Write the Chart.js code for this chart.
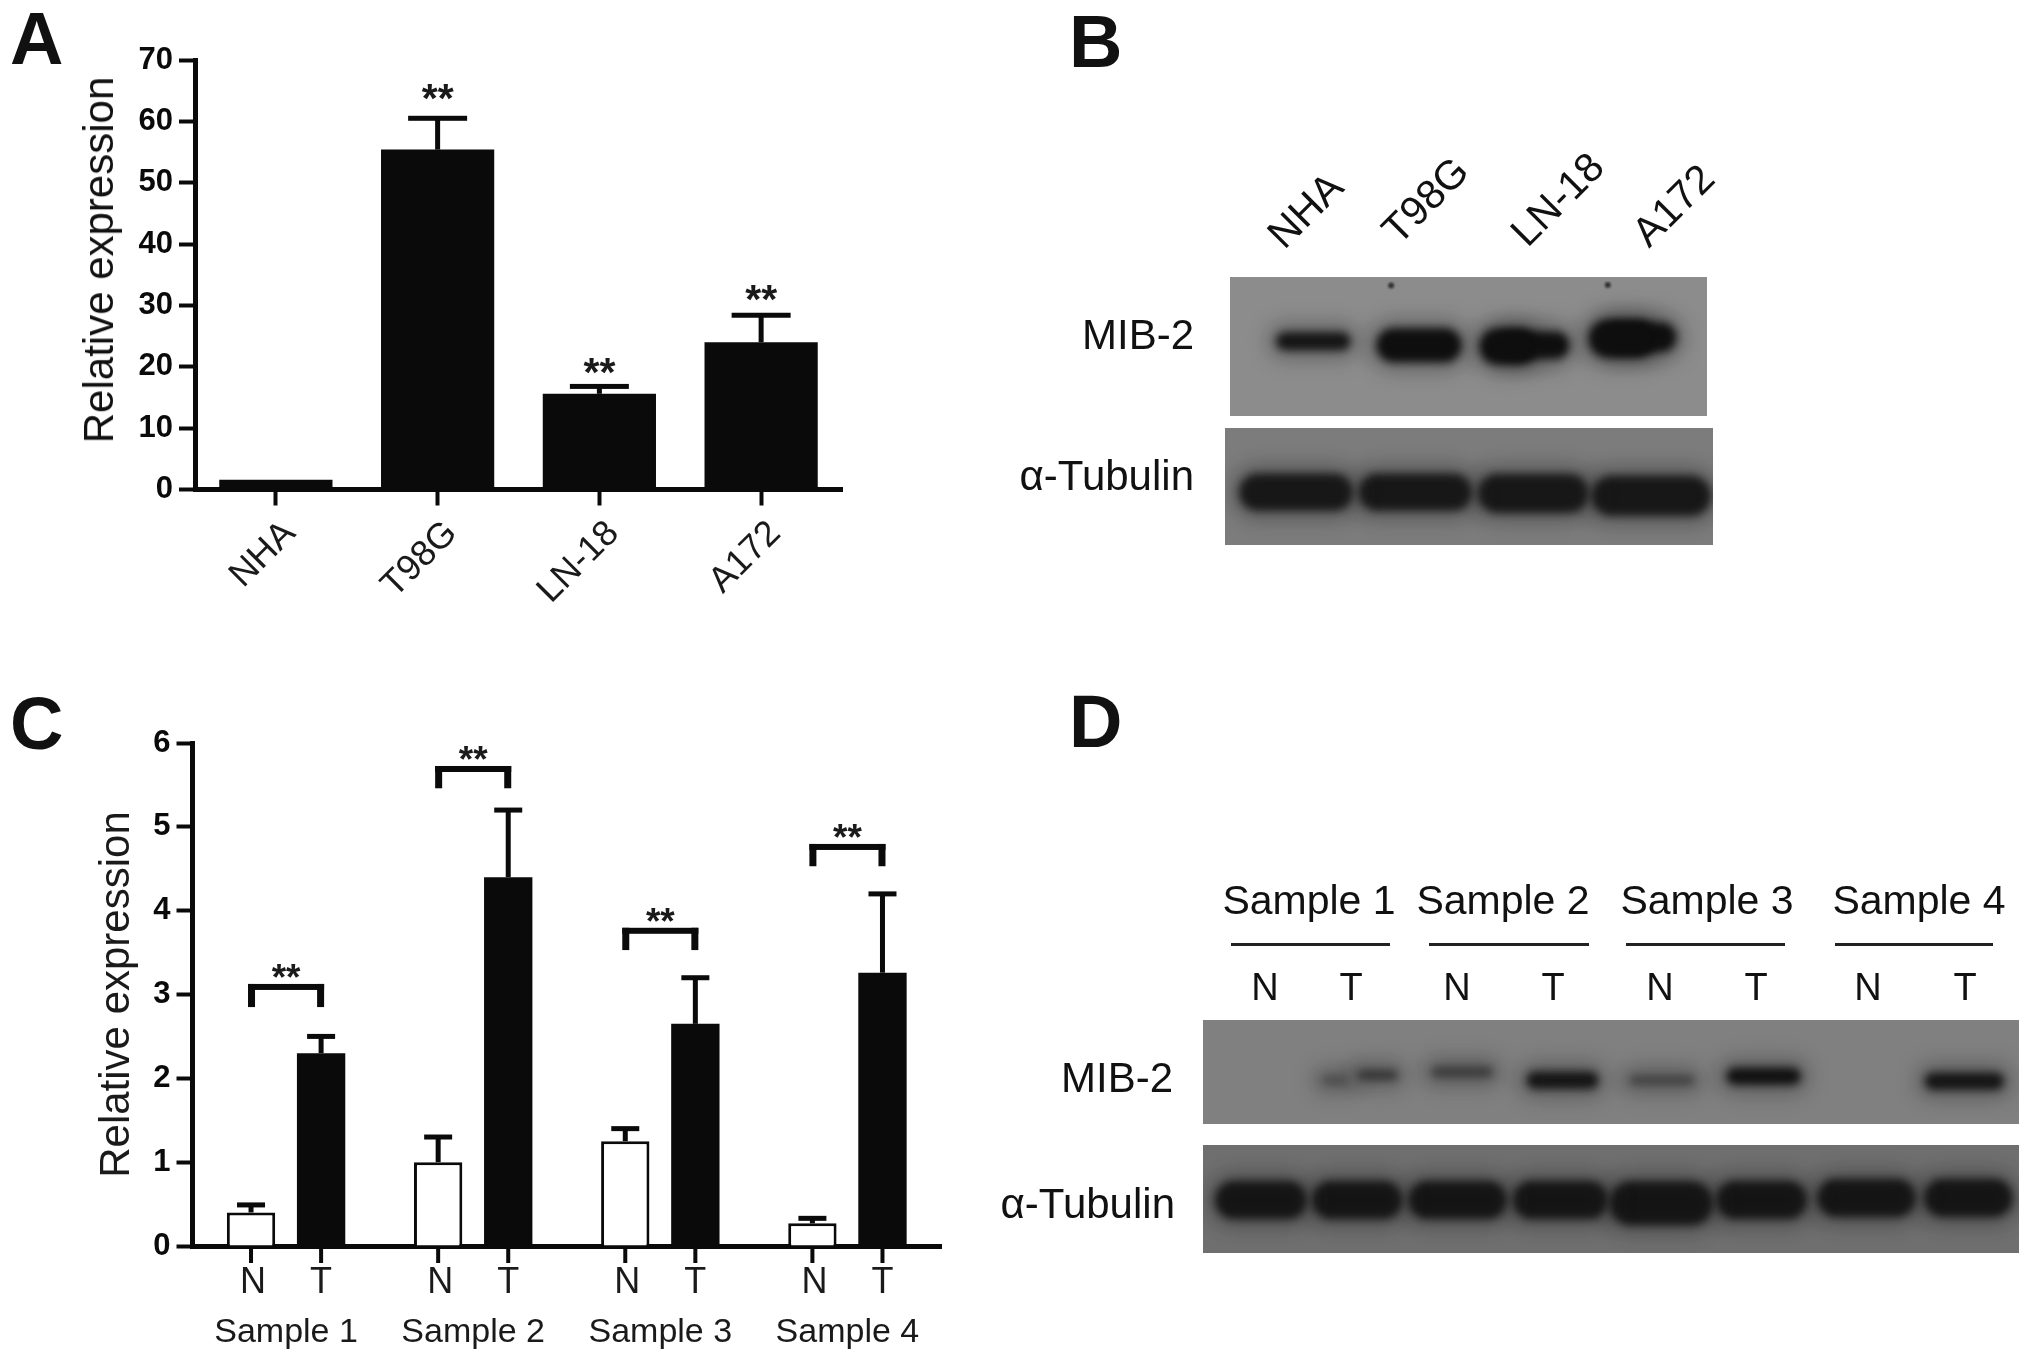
<!DOCTYPE html>
<html>
<head>
<meta charset="utf-8">
<title>MIB-2 expression</title>
<script src="https://cdn.jsdelivr.net/npm/chart.js@4"></script>
<style>
    html, body { margin: 0; padding: 0; background: #fff; }
    #page { position: relative; width: 2031px; height: 1363px; overflow: hidden; font-family: "Liberation Sans", Arial, sans-serif; color: #111; filter: blur(0.7px); }
    #page canvas { position: absolute; }
    .lbl { position: absolute; line-height: 0; white-space: nowrap; }
    .rule { position: absolute; height: 3px; background: #222; }
</style>
</head>
<body>
<div id="page"></div>
<script>
// panel A values
const cellLines = ['NHA', 'T98G', 'LN-18', 'A172'];
const cellValues = [1.6, 55.4, 15.6, 24];
const cellErrors = [1.6, 60.5, 16.8, 28.4];
const cellStars = [null, 64.8, 20, 32];
const cellTicks = [0, 10, 20, 30, 40, 50, 60, 70];

// panel C values
const samples = ['Sample 1', 'Sample 2', 'Sample 3', 'Sample 4'];
const normalValues = [0.4, 1, 1.25, 0.27];
const normalErrors = [0.49, 1.3, 1.4, 0.33];
const tumorValues = [2.3, 4.4, 2.65, 3.26];
const tumorErrors = [2.5, 5.2, 3.2, 4.2];
const bracketTops = [3.09, 5.69, 3.76, 4.76];
const bracketFeet = [2.85, 5.46, 3.53, 4.53];
const sampleStars = [3.26, 5.86, 3.93, 4.93];
const sampleTicks = [0, 1, 2, 3, 4, 5, 6];

const blotBMib = [[10.9, 22.9, 46], [34, 44.9, 49], [56.2, 60.8, 50], [58.7, 68.6, 49], [79.7, 86, 44], [81.8, 91.2, 43]];
const blotBTub = [[6.7, 22.4, 55], [31.2, 46.8, 55], [55.8, 70.5, 56], [79.2, 95.5, 58]];
const blotBSpecks = [[33.5, 3.5], [79.7, 3]];
const blotDMib = [[15, 17.4, 58], [19.5, 23.3, 53], [28.6, 34.9, 50], [40.7, 47.4, 58], [52.8, 59.7, 58], [65.2, 72.2, 54], [89.5, 97.1, 59]];
const blotDTub = [[3.8, 10.4, 51], [15.7, 22.1, 51], [27.5, 34.9, 51], [40.3, 47.3, 51], [52.5, 59.8, 54], [65.2, 71.7, 51], [77.6, 85, 49], [90.7, 96.9, 49]];

const INK = '#0a0a0a';
const FONT = '"Liberation Sans", Arial, sans-serif';
const page = document.getElementById('page');

function addCanvas(left, top, width, height) {
    const canvas = document.createElement('canvas');
    canvas.width = width;
    canvas.height = height;
    canvas.style.left = left + 'px';
    canvas.style.top = top + 'px';
    canvas.style.width = width + 'px';
    canvas.style.height = height + 'px';
    page.appendChild(canvas);
    return canvas;
}

function addLabel(text, x, y, size, opts) {
    opts = opts || {};
    const el = document.createElement('div');
    el.className = 'lbl';
    el.textContent = text;
    el.style.left = x + 'px';
    el.style.top = y + 'px';
    el.style.fontSize = size + 'px';
    if (opts.bold) el.style.fontWeight = 'bold';
    const shift = opts.right ? '-100%' : (opts.center ? '-50%' : '0');
    el.style.transform = 'translateX(' + shift + ')' + (opts.rotate ? ' rotate(' + opts.rotate + 'deg)' : '');
    page.appendChild(el);
}

function addRule(x1, x2, y) {
    const el = document.createElement('div');
    el.className = 'rule';
    el.style.left = x1 + 'px';
    el.style.width = (x2 - x1) + 'px';
    el.style.top = y + 'px';
    page.appendChild(el);
}

// y axis shared by both bar panels
function yAxis(ticks, max, scaleWidth) {
    return {
        min: 0,
        max: max,
        z: 1,
        afterBuildTicks: scale => { scale.ticks = ticks.map(v => ({ value: v })); },
        afterFit: scale => { scale.width = scaleWidth; },
        border: { color: INK, width: 5 },
        grid: { drawOnChartArea: false, tickLength: 16, tickWidth: 4, tickColor: INK },
        ticks: { color: INK, padding: 6, font: { family: FONT, size: 31, weight: 'bold' } }
    };
}

function drawCapped(ctx, x, yFrom, yTo, capWidth) {
    ctx.fillStyle = INK;
    ctx.fillRect(x - 2.5, yTo, 5, yFrom - yTo);
    ctx.fillRect(x - capWidth / 2, yTo - 2.5, capWidth, 5);
}

function drawStars(ctx, x, y, size) {
    ctx.fillStyle = '#1a1a1a';
    ctx.font = 'bold ' + size + 'px ' + FONT;
    ctx.textAlign = 'center';
    ctx.textBaseline = 'alphabetic';
    ctx.fillText('**', x, y + 0.48 * size);
}

// Panel A
const panelAMarks = {
    id: 'panelAMarks',
    afterDatasetsDraw(chart) {
        const ctx = chart.ctx;
        const yScale = chart.scales.y;
        const bars = chart.getDatasetMeta(0).data;
        ctx.save();
        cellLines.forEach((name, i) => {
            if (cellStars[i] === null) return;
            drawCapped(ctx, bars[i].x, yScale.getPixelForValue(cellValues[i]), yScale.getPixelForValue(cellErrors[i]), 59);
            drawStars(ctx, bars[i].x, yScale.getPixelForValue(cellStars[i]), 41);
        });
        ctx.restore();
    }
};

new Chart(addCanvas(0, 0, 860, 620), {
    type: 'bar',
    data: {
        labels: cellLines,
        datasets: [{ data: cellValues, backgroundColor: INK, barPercentage: 0.7, categoryPercentage: 1 }]
    },
    options: {
        responsive: false,
        animation: false,
        layout: { padding: { top: 60, right: 18 } },
        plugins: { legend: { display: false }, tooltip: { enabled: false } },
        scales: {
            x: {
                z: 1,
                afterFit: scale => { scale.height = 130.5; scale.paddingLeft = 0; scale.paddingRight = 0; },
                border: { color: INK, width: 5 },
                grid: { offset: false, drawOnChartArea: false, tickLength: 16, tickWidth: 4, tickColor: INK },
                ticks: { color: '#1a1a1a', minRotation: 45, maxRotation: 45, padding: 7, labelOffset: 14, font: { family: FONT, size: 36 } }
            },
            y: yAxis(cellTicks, 70, 195)
        }
    },
    plugins: [panelAMarks]
});

// Panel C
const panelCMarks = {
    id: 'panelCMarks',
    afterDatasetsDraw(chart) {
        const ctx = chart.ctx;
        const yScale = chart.scales.y;
        const baseY = yScale.getPixelForValue(0);
        const nBars = chart.getDatasetMeta(0).data;
        const tBars = chart.getDatasetMeta(1).data;
        ctx.save();
        samples.forEach((name, i) => {
            const nx = nBars[i].x;
            const tx = tBars[i].x;
            drawCapped(ctx, nx, yScale.getPixelForValue(normalValues[i]), yScale.getPixelForValue(normalErrors[i]), 28);
            drawCapped(ctx, tx, yScale.getPixelForValue(tumorValues[i]), yScale.getPixelForValue(tumorErrors[i]), 28);

            // tick marks and N / T under each bar
            ctx.fillStyle = INK;
            ctx.fillRect(nx - 2, baseY, 4, 17);
            ctx.fillRect(tx - 2, baseY, 4, 17);
            ctx.fillStyle = '#1a1a1a';
            ctx.font = '36px ' + FONT;
            ctx.textAlign = 'center';
            ctx.textBaseline = 'alphabetic';
            ctx.fillText('N', nx + 2, baseY + 47);
            ctx.fillText('T', tx, baseY + 47);

            // bracket over the pair
            const top = yScale.getPixelForValue(bracketTops[i]);
            const foot = yScale.getPixelForValue(bracketFeet[i]);
            ctx.fillStyle = INK;
            ctx.fillRect(nx - 3, top - 3, tx - nx + 6, 6);
            ctx.fillRect(nx - 3, top - 3, 7, foot - top + 3);
            ctx.fillRect(tx - 4, top - 3, 7, foot - top + 3);
            drawStars(ctx, (nx + tx) / 2, yScale.getPixelForValue(sampleStars[i]), 37);
        });
        ctx.restore();
    }
};

const panelCy = yAxis(sampleTicks, 6, 192.5);
panelCy.title = {
    display: true,
    text: 'Relative expression',
    color: '#1a1a1a',
    padding: { top: 92, bottom: 0 },
    font: { family: FONT, size: 42 }
};

new Chart(addCanvas(0, 680, 960, 683), {
    type: 'bar',
    data: {
        labels: samples,
        datasets: [
            { data: normalValues, backgroundColor: '#fff', borderColor: INK, borderWidth: 3, barPercentage: 0.69, categoryPercentage: 0.749 },
            { data: tumorValues, backgroundColor: INK, borderColor: INK, borderWidth: 0, barPercentage: 0.69, categoryPercentage: 0.749 }
        ]
    },
    options: {
        responsive: false,
        animation: false,
        layout: { padding: { top: 63, right: 19 } },
        plugins: { legend: { display: false }, tooltip: { enabled: false } },
        scales: {
            x: {
                z: 1,
                afterFit: scale => { scale.height = 117; scale.paddingLeft = 0; scale.paddingRight = 0; },
                border: { color: INK, width: 5 },
                grid: { offset: false, drawOnChartArea: false, drawTicks: false },
                ticks: { color: '#1a1a1a', maxRotation: 0, padding: 66, font: { family: FONT, size: 34 } }
            },
            y: panelCy
        }
    },
    plugins: [panelCMarks]
});

// the blots: each band is a short thick line on a 0-100 scale, drawn soft
const softBands = {
    id: 'softBands',
    beforeDatasetDraw(chart, args) {
        chart.ctx.save();
        chart.ctx.filter = 'blur(' + chart.data.datasets[args.index].softness + 'px)';
    },
    afterDatasetDraw(chart) {
        chart.ctx.restore();
    }
};

function blotChart(left, top, width, height, background, bands, shades, thickness, specks) {
    const canvas = addCanvas(left, top, width, height);
    canvas.style.background = background;
    const datasets = [];
    bands.forEach((band, i) => {
        const points = [{ x: band[0], y: band[2] }, { x: band[1], y: band[2] }];
        const base = { data: points, pointRadius: 0, borderCapStyle: 'round', tension: 0 };
        datasets.push(Object.assign({}, base, { borderColor: 'rgba(20,20,20,0.32)', borderWidth: thickness[i] + 18, softness: 10 }));
        datasets.push(Object.assign({}, base, { borderColor: shades[i], borderWidth: thickness[i], softness: 4 }));
    });
    if (specks) {
        datasets.push({
            data: specks.map(s => ({ x: s[0], y: s[1] })),
            showLine: false,
            pointRadius: 3,
            pointBorderWidth: 0,
            pointBackgroundColor: '#333',
            softness: 1
        });
    }
    new Chart(canvas, {
        type: 'line',
        data: { datasets: datasets },
        options: {
            responsive: false,
            animation: false,
            plugins: { legend: { display: false }, tooltip: { enabled: false } },
            scales: {
                x: { type: 'linear', min: 0, max: 100, display: false },
                y: { min: 0, max: 100, reverse: true, display: false }
            }
        },
        plugins: [softBands]
    });
}

blotChart(1230, 277, 477, 139, '#8c8c8c', blotBMib,
    ['#161616', '#0c0c0c', '#0c0c0c', '#0c0c0c', '#0c0c0c', '#0c0c0c'],
    [18, 34, 36, 27, 38, 29], blotBSpecks);
blotChart(1225, 428, 488, 117, '#7c7c7c', blotBTub,
    ['#1a1a1a', '#1a1a1a', '#1a1a1a', '#1a1a1a'],
    [37, 37, 39, 40]);
blotChart(1203, 1020, 816, 104, '#808080', blotDMib,
    ['#5a5a5a', '#3c3c3c', '#484848', '#151515', '#4c4c4c', '#101010', '#151515'],
    [7, 9, 10, 17, 8, 17, 17]);
blotChart(1203, 1145, 816, 108, '#6f6f6f', blotDTub,
    ['#161616', '#161616', '#161616', '#161616', '#161616', '#161616', '#161616', '#161616'],
    [38, 38, 38, 38, 44, 38, 38, 38]);

// panel letters
addLabel('A', 10, 39, 74, { bold: true });
addLabel('B', 1069, 42, 74, { bold: true });
addLabel('C', 10, 724, 74, { bold: true });
addLabel('D', 1069, 722, 74, { bold: true });

// panel A title sits above the axis centre in the reference
addLabel('Relative expression', 99, 260, 42, { center: true, rotate: -90 });

// panel B text
addLabel('MIB-2', 1194, 335, 42, { right: true });
addLabel('α-Tubulin', 1194, 476, 42, { right: true });
addLabel('NHA', 1305, 210, 41, { center: true, rotate: -45 });
addLabel('T98G', 1425, 200, 41, { center: true, rotate: -45 });
addLabel('LN-18', 1557, 199, 41, { center: true, rotate: -45 });
addLabel('A172', 1673, 205, 41, { center: true, rotate: -45 });

// panel D text
addLabel('Sample 1', 1309, 900, 41, { center: true });
addLabel('Sample 2', 1503, 900, 41, { center: true });
addLabel('Sample 3', 1707, 900, 41, { center: true });
addLabel('Sample 4', 1919, 900, 41, { center: true });
addRule(1231, 1390, 943);
addRule(1429, 1589, 943);
addRule(1626, 1785, 943);
addRule(1835, 1993, 943);
addLabel('N', 1265, 987, 38, { center: true });
addLabel('T', 1351, 987, 38, { center: true });
addLabel('N', 1457, 987, 38, { center: true });
addLabel('T', 1553, 987, 38, { center: true });
addLabel('N', 1660, 987, 38, { center: true });
addLabel('T', 1756, 987, 38, { center: true });
addLabel('N', 1868, 987, 38, { center: true });
addLabel('T', 1965, 987, 38, { center: true });
addLabel('MIB-2', 1173, 1078, 42, { right: true });
addLabel('α-Tubulin', 1175, 1204, 42, { right: true });
</script>
</body>
</html>
